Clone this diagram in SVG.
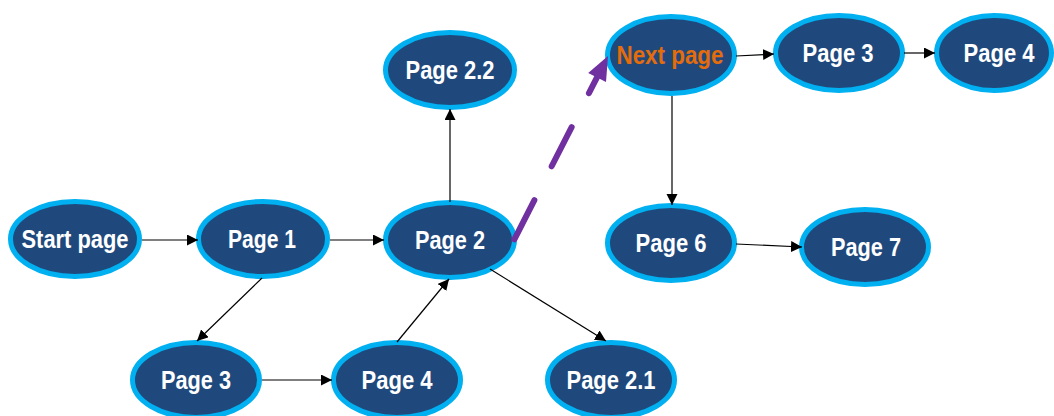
<svg xmlns="http://www.w3.org/2000/svg" width="1054" height="416" viewBox="0 0 1054 416">
  <style>
    .node ellipse { fill: #1F497D; stroke: #00B0F0; stroke-width: 5; }
    .node text { font-family: "Liberation Sans", Arial, sans-serif; font-weight: bold; font-size: 25px; fill: #FFFFFF; text-anchor: middle; }
    .node text.accent { fill: #E46C0A; }
    .edge { fill: none; stroke: #000000; stroke-width: 1.2; marker-end: url(#arrow); }
    .jump { fill: none; stroke: #7030A0; stroke-width: 6; stroke-linecap: round; stroke-dasharray: 44 38; }
  </style>
  <defs>
    <marker id="arrow" markerUnits="userSpaceOnUse" markerWidth="12" markerHeight="12" refX="11" refY="5.5" orient="auto">
      <path d="M0,0 L11,5.5 L0,11 Z" fill="#000000"/>
    </marker>
  </defs>
  <rect width="1054" height="416" fill="#FFFFFF"/>

  <!-- pages -->
  <g id="start-page" class="node">
    <ellipse cx="75" cy="239" rx="64.5" ry="37.5"/>
    <text x="75" y="248" textLength="107" lengthAdjust="spacingAndGlyphs">Start page</text>
  </g>
  <g id="page-1" class="node">
    <ellipse cx="263" cy="239" rx="64.5" ry="37.5"/>
    <text x="262" y="248" textLength="68" lengthAdjust="spacingAndGlyphs">Page 1</text>
  </g>
  <g id="page-2" class="node">
    <ellipse cx="450" cy="240" rx="64.5" ry="37.5"/>
    <text x="450" y="249" textLength="70" lengthAdjust="spacingAndGlyphs">Page 2</text>
  </g>
  <g id="page-2-2" class="node">
    <ellipse cx="450" cy="70" rx="64.5" ry="37.5"/>
    <text x="450" y="79" textLength="89" lengthAdjust="spacingAndGlyphs">Page 2.2</text>
  </g>
  <g id="next-page" class="node">
    <ellipse cx="671" cy="55" rx="63.5" ry="38.5"/>
    <text class="accent" x="670" y="64" textLength="107" lengthAdjust="spacingAndGlyphs">Next page</text>
  </g>
  <g id="page-3-top" class="node">
    <ellipse cx="839" cy="53" rx="63.5" ry="37.5"/>
    <text x="838" y="62" textLength="71" lengthAdjust="spacingAndGlyphs">Page 3</text>
  </g>
  <g id="page-4-top" class="node">
    <ellipse cx="994" cy="53" rx="57.5" ry="37.5"/>
    <text x="999" y="62" textLength="71" lengthAdjust="spacingAndGlyphs">Page 4</text>
  </g>
  <g id="page-6" class="node">
    <ellipse cx="671" cy="243" rx="63.5" ry="37.5"/>
    <text x="671" y="252" textLength="71" lengthAdjust="spacingAndGlyphs">Page 6</text>
  </g>
  <g id="page-7" class="node">
    <ellipse cx="865" cy="247" rx="63.5" ry="37.5"/>
    <text x="866" y="256" textLength="70" lengthAdjust="spacingAndGlyphs">Page 7</text>
  </g>
  <g id="page-3" class="node">
    <ellipse cx="196" cy="380" rx="63.5" ry="37.5"/>
    <text x="196" y="389" textLength="70" lengthAdjust="spacingAndGlyphs">Page 3</text>
  </g>
  <g id="page-4" class="node">
    <ellipse cx="397" cy="380" rx="63.5" ry="37.5"/>
    <text x="397" y="389" textLength="71" lengthAdjust="spacingAndGlyphs">Page 4</text>
  </g>
  <g id="page-2-1" class="node">
    <ellipse cx="611" cy="380" rx="63.5" ry="37.5"/>
    <text x="611" y="389" textLength="89" lengthAdjust="spacingAndGlyphs">Page 2.1</text>
  </g>

  <!-- links between pages -->
  <g id="connectors">
    <path class="edge" d="M142,240 L198,240"/>
    <path class="edge" d="M330,240 L384,240"/>
    <path class="edge" d="M450,202 L450,109"/>
    <path class="edge" d="M262,278 L197,341"/>
    <path class="edge" d="M262,380 L332,380"/>
    <path class="edge" d="M397,342 L449,279"/>
    <path class="edge" d="M490,269 L606,341"/>
    <path class="edge" d="M736,56 L774,54"/>
    <path class="edge" d="M904,53 L935,53"/>
    <path class="edge" d="M672,96 L672,205"/>
    <path class="edge" d="M736,244 L802,247"/>
    <path class="jump" d="M514.4,239.3 L597,77.4"/>
    <polygon points="608,56 606,82 588.2,72.9" fill="#7030A0"/>
  </g>
</svg>
